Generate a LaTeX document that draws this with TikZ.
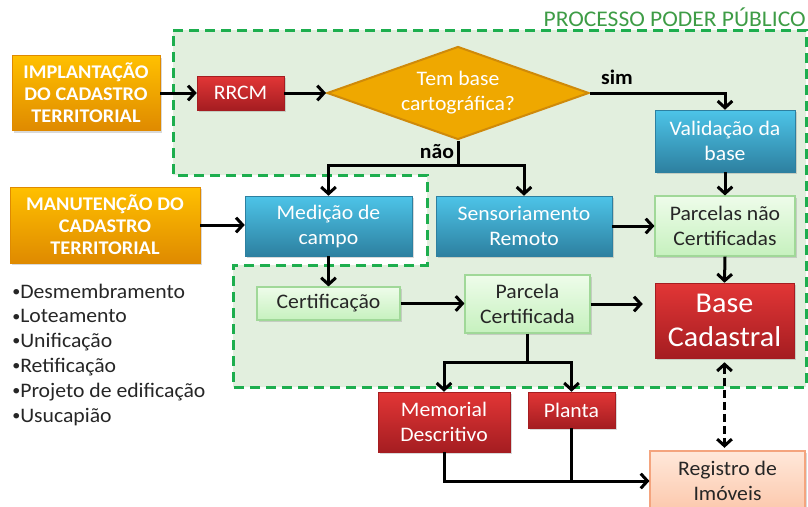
\documentclass[tikz,border=0pt]{standalone}
\usepackage{fontspec}
\setmainfont{Carlito}[FakeStretch=1.05]
\usetikzlibrary{arrows.meta,shapes.geometric,shadows}
\definecolor{orTop}{HTML}{FFC000}
\definecolor{orBot}{HTML}{DF8A00}
\definecolor{redTop}{HTML}{E23636}
\definecolor{redBot}{HTML}{A51D21}
\definecolor{blueTop}{HTML}{4DC4E8}
\definecolor{blueBot}{HTML}{2D80A0}
\definecolor{lgTop}{HTML}{EEFCEA}
\definecolor{lgBot}{HTML}{C6F1BE}
\definecolor{lgDraw}{HTML}{A0D898}
\definecolor{peTop}{HTML}{FFE8DA}
\definecolor{peBot}{HTML}{FCC8AC}
\definecolor{peDraw}{HTML}{F4A47E}
\definecolor{regFill}{HTML}{E2EFDE}
\definecolor{regDraw}{HTML}{1DAE4E}
\definecolor{ttlGreen}{HTML}{3E9C46}
\definecolor{diaFill}{HTML}{EFA800}
\definecolor{diaDraw}{HTML}{CF8A0A}
\definecolor{dark}{HTML}{262626}
\newcommand{\smallbul}{\raisebox{0.08em}{\fontsize{11.5}{11.5}\selectfont\textbullet}}
\begin{document}
\begin{tikzpicture}[x=0.75pt,y=-0.75pt,
  box/.style={rectangle, inner sep=2pt, align=center,
    drop shadow={opacity=0.3,shadow xshift=1.2pt,shadow yshift=-1.5pt}},
  body/.style={font=\fontsize{15.5}{18.75}\selectfont},
  orangebox/.style={box, top color=orTop, bottom color=orBot, draw=orBot, line width=0.4pt,
    text=white, font=\bfseries\fontsize{14.5}{16.5}\selectfont},
  redbox/.style={box, body, top color=redTop, bottom color=redBot, draw=redBot, line width=0.4pt, text=white},
  bluebox/.style={box, body, top color=blueTop, bottom color=blueBot, draw=blueBot, line width=0.4pt, text=white},
  greenbox/.style={box, body, top color=lgTop, bottom color=lgBot, draw=lgDraw, line width=0.8pt, text=dark},
  peachbox/.style={box, body, top color=peTop, bottom color=peBot, draw=peDraw, line width=0.8pt, text=dark},
  conn/.style={line width=2.25pt, draw=black},
  arr/.style={conn, -{Straight Barb[length=5pt,width=11pt]}},
  lbl/.style={font=\bfseries\fontsize{15.5}{18}\selectfont, text=black},
  listitem/.style={font=\fontsize{15.5}{18.75}\selectfont, text=dark, inner sep=0pt}
]
\useasboundingbox (0,0) rectangle (808,507);

% region of the public process
\draw[fill=regFill, draw=regDraw, line width=2.25pt, dash pattern=on 7.5pt off 4.5pt]
  (173,30) -- (806,30) -- (806,387) -- (233,387) -- (233,265) -- (427,265) -- (427,175) -- (173,175) -- cycle;
\node[font=\fontsize{16.8}{19}\selectfont, text=ttlGreen, anchor=base east, inner sep=0pt] (ttl) at (806,26) {PROCESSO PODER PÚBLICO};

% nodes
\node[orangebox, minimum width=111pt, minimum height=56.25pt] (impl) at (86,93) {IMPLANTAÇÃO\\DO CADASTRO\\TERRITORIAL};
\node[redbox, minimum width=65.25pt, minimum height=25.5pt] (rrcm) at (240.5,93) {RRCM};
\node[diamond, aspect=2.8, minimum width=196.5pt, minimum height=69.75pt, inner sep=0pt,
  fill=diaFill, draw=diaDraw, line width=1.5pt, text=white, align=center, body] (dia) at (458,93) {Tem base\\cartográfica?};
\node[bluebox, minimum width=105pt, minimum height=46.5pt] (val) at (725,141) {Validação da\\base};
\node[orangebox, minimum width=142.5pt, minimum height=57pt] (man) at (105,225) {MANUTENÇÃO DO\\CADASTRO\\TERRITORIAL};
\node[bluebox, minimum width=125.25pt, minimum height=45pt] (med) at (328.5,226) {Medição de\\campo};
\node[bluebox, minimum width=132pt, minimum height=45pt] (sens) at (524,226) {Sensoriamento\\Remoto};
\node[greenbox, minimum width=105pt, minimum height=45pt] (pnc) at (725,226) {Parcelas não\\Certificadas};
\node[greenbox, minimum width=107.25pt, minimum height=24.75pt] (cert) at (328.5,303.5) {Certificação};
\node[greenbox, minimum width=93.75pt, minimum height=43.5pt] (pc) at (527.5,304) {Parcela\\Certificada};
\node[redbox, minimum width=104.25pt, minimum height=56.25pt, font=\fontsize{21.5}{25}\selectfont] (base) at (724.5,320.5) {Base\\Cadastral};
\node[redbox, minimum width=99pt, minimum height=45pt] (mem) at (444,422) {Memorial\\Descritivo};
\node[redbox, minimum width=65.25pt, minimum height=27pt] (pla) at (571.5,410) {Planta};
\node[peachbox, minimum width=116.25pt, minimum height=45pt] (reg) at (727.5,481) {Registro de\\Imóveis};

% list
\foreach \t [count=\i] in {Desmembramento,Loteamento,Unificação,Retificação,Projeto de edificação,Usucapião}
  \node[listitem, anchor=base west] (li\i) at (12,{298+24.8*(\i-1)}) {\smallbul\t};

% connectors
\draw[arr] (impl.east) -- (rrcm.west);
\draw[arr] (rrcm.east) -- (dia.west);
\draw[arr] (dia.east) -| (val.north);
\node[lbl] (sim) at (617,77) {sim};
\coordinate (split) at (458,165);
\draw[conn] (dia.south) -- (split);
\draw[arr] (split) -| (med.north);
\draw[arr] (split) -| (sens.north);
\node[lbl] (nao) at (437,152) {não};
\draw[arr] (man.east) -- (med.west |- man.east);
\draw[arr] (val.south) -- (pnc.north);
\draw[arr] (sens.east) -- (pnc.west);
\draw[arr] (med.south) -- (cert.north);
\draw[arr] (cert.east) -- (pc.west |- cert.east);
\draw[arr, shorten >=9pt] (pc.east) -- (base.west |- pc.east);
\draw[arr] (pnc.south) -- (base.north);
\coordinate (split2) at (527.5,362);
\draw[conn] (pc.south) -- (split2);
\draw[arr] (split2) -| (mem.north);
\draw[arr] (split2) -| (pla.north);
\draw[arr] (mem.south) |- (reg.west);
\draw[conn] (pla.south) -- (pla.south |- reg.west);
\draw[line width=2.25pt, dash pattern=on 6pt off 3pt,
  {Straight Barb[length=5pt,width=11pt]}-{Straight Barb[length=5pt,width=11pt]}]
  ([yshift=-3pt]base.south) -- ([yshift=2pt]reg.north -| base.south);
\end{tikzpicture}
\end{document}
